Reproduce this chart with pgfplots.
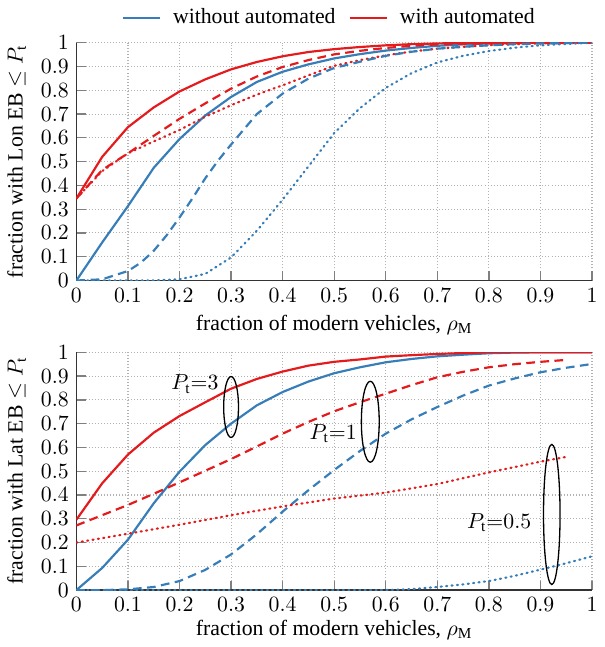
\documentclass[border=0pt]{standalone}
\usepackage{pgfplots}
\pgfplotsset{compat=1.18}
\usepackage{fontspec}
\setmainfont{Liberation Serif}
\definecolor{cblue}{RGB}{55,126,184}
\definecolor{cred}{RGB}{228,26,28}
\pgfplotsset{
  myaxis/.style={
    scale only axis, width=237pt, height=109.3pt,
    xmin=0, xmax=1, ymin=0, ymax=1,
    xtick={0,0.1,...,1.01}, ytick={0,0.1,...,1.01},
    axis x line*=bottom, axis y line*=left,
    grid=major, major grid style={densely dotted, gray!60, line width=0.5pt},
    tick style={gray, line width=0.6pt},
    axis line style={black!80, line width=0.6pt},
    tick label style={font=\normalsize},
    label style={font=\normalsize},
    xlabel={fraction of modern vehicles, $\rho_{\mathrm{M}}$},
    every axis plot/.append style={line width=1pt},
  },
  dsh/.style={dash pattern=on 4pt off 2.5pt},
  dtt/.style={dash pattern=on 0.5pt off 2pt, line cap=round},
}
\begin{document}
\begin{tikzpicture}
\begin{axis}[myaxis,
  xlabel style={yshift=1pt},
  ylabel={fraction with Lon EB $\leq P_{\mathrm{t}}$},
  legend columns=2,
  legend style={at={(0.5,1)}, anchor=south, yshift=3pt, draw=none, fill=none, font=\normalsize,
    nodes={inner xsep=5.5pt},
    /tikz/every even column/.append style={column sep=0.5pt}},
  legend cell align=left,
]
\addplot[cblue] coordinates {(0,0) (0.05,0.16) (0.1,0.313) (0.15,0.474) (0.2,0.595) (0.25,0.694) (0.3,0.772) (0.35,0.835) (0.4,0.878) (0.45,0.909) (0.5,0.934) (0.55,0.952) (0.6,0.967) (0.65,0.978) (0.7,0.987) (0.75,0.993) (0.8,0.997) (0.9,1) (1,1)};
\addlegendentry{without automated}
\addplot[cred] coordinates {(0,0.345) (0.05,0.52) (0.1,0.645) (0.15,0.728) (0.2,0.795) (0.25,0.846) (0.3,0.888) (0.35,0.919) (0.4,0.943) (0.45,0.961) (0.5,0.973) (0.55,0.982) (0.6,0.989) (0.65,0.994) (0.7,0.997) (0.75,0.999) (0.8,1) (0.9,1) (1,1)};
\addlegendentry{with automated}
\addplot[cred, dsh, forget plot] coordinates {(0,0.345) (0.05,0.465) (0.1,0.535) (0.15,0.608) (0.2,0.68) (0.25,0.745) (0.3,0.807) (0.35,0.858) (0.4,0.898) (0.45,0.927) (0.5,0.951) (0.55,0.966) (0.6,0.978) (0.65,0.987) (0.7,0.993) (0.8,0.998) (0.9,1) (1,1)};
\addplot[cred, dtt, forget plot] coordinates {(0,0.345) (0.05,0.46) (0.1,0.535) (0.15,0.585) (0.2,0.633) (0.25,0.689) (0.3,0.737) (0.35,0.782) (0.4,0.821) (0.45,0.863) (0.5,0.903) (0.55,0.927) (0.6,0.947) (0.65,0.963) (0.7,0.975) (0.8,0.99) (0.9,0.997) (1,1)};
\addplot[cblue, dsh, forget plot] coordinates {(0,0) (0.05,0.005) (0.1,0.04) (0.125,0.075) (0.15,0.125) (0.175,0.19) (0.2,0.265) (0.225,0.345) (0.25,0.43) (0.275,0.505) (0.3,0.572) (0.35,0.7) (0.4,0.786) (0.45,0.849) (0.5,0.894) (0.55,0.92) (0.6,0.945) (0.65,0.962) (0.7,0.975) (0.75,0.983) (0.8,0.989) (0.85,0.994) (0.9,0.997) (1,1)};
\addplot[cblue, dtt, forget plot] coordinates {(0,0) (0.05,0) (0.1,0) (0.15,0) (0.2,0.005) (0.25,0.028) (0.3,0.097) (0.35,0.209) (0.4,0.34) (0.45,0.48) (0.5,0.62) (0.55,0.725) (0.6,0.81) (0.65,0.872) (0.7,0.917) (0.75,0.945) (0.8,0.965) (0.85,0.979) (0.9,0.989) (0.95,0.995) (1,1)};
\end{axis}
\begin{axis}[myaxis, at={(0pt,-142.3pt)},
  xlabel style={yshift=3pt},
  ylabel={fraction with Lat EB $\leq P_{\mathrm{t}}$},
]
\addplot[cblue] coordinates {(0,0) (0.05,0.093) (0.1,0.212) (0.15,0.365) (0.2,0.498) (0.25,0.61) (0.3,0.7) (0.35,0.777) (0.4,0.833) (0.45,0.877) (0.5,0.912) (0.55,0.937) (0.6,0.958) (0.65,0.972) (0.7,0.983) (0.75,0.99) (0.8,0.996) (0.85,0.999) (0.9,1) (1,1)};
\addplot[cred] coordinates {(0,0.296) (0.05,0.449) (0.1,0.57) (0.15,0.662) (0.2,0.732) (0.25,0.79) (0.3,0.847) (0.35,0.888) (0.4,0.919) (0.45,0.944) (0.5,0.96) (0.55,0.97) (0.6,0.982) (0.65,0.988) (0.7,0.993) (0.75,0.997) (0.8,1) (0.9,1) (1,1)};
\addplot[cred, dsh] coordinates {(0,0.272) (0.05,0.315) (0.1,0.358) (0.15,0.405) (0.2,0.453) (0.25,0.502) (0.3,0.551) (0.35,0.604) (0.4,0.658) (0.45,0.707) (0.5,0.752) (0.55,0.79) (0.6,0.826) (0.65,0.862) (0.7,0.895) (0.75,0.918) (0.8,0.937) (0.85,0.95) (0.9,0.96) (0.95,0.968)};
\addplot[cblue, dsh] coordinates {(0,0) (0.05,0) (0.1,0.003) (0.15,0.013) (0.2,0.038) (0.25,0.085) (0.3,0.15) (0.35,0.235) (0.4,0.33) (0.45,0.42) (0.5,0.505) (0.55,0.585) (0.6,0.658) (0.65,0.718) (0.7,0.77) (0.75,0.818) (0.8,0.86) (0.85,0.89) (0.9,0.916) (0.95,0.935) (1,0.951)};
\addplot[cred, dtt] coordinates {(0,0.2) (0.1,0.237) (0.2,0.275) (0.3,0.315) (0.4,0.352) (0.5,0.385) (0.6,0.41) (0.7,0.446) (0.8,0.495) (0.9,0.54) (0.95,0.56)};
\addplot[cblue, dtt] coordinates {(0,0) (0.1,0) (0.2,0) (0.3,0) (0.4,0) (0.5,0) (0.6,0) (0.65,0.004) (0.7,0.013) (0.75,0.024) (0.8,0.038) (0.85,0.06) (0.9,0.086) (0.95,0.113) (1,0.142)};
\draw[black, line width=0.6pt] (axis cs:0.3,0.77) ellipse [x radius=3.4pt, y radius=14pt];
\draw[black, line width=0.6pt] (axis cs:0.57,0.708) ellipse [x radius=4.1pt, y radius=18.6pt];
\draw[black, line width=0.6pt] (axis cs:0.922,0.318) ellipse [x radius=3.8pt, y radius=32.2pt];
\node[font=\normalsize] at (axis cs:0.23,0.866) {$P_{\mathrm{t}}{=}3$};
\node[font=\normalsize] at (axis cs:0.498,0.657) {$P_{\mathrm{t}}{=}1$};
\node[font=\normalsize] at (axis cs:0.82,0.285) {$P_{\mathrm{t}}{=}0.5$};
\end{axis}
\end{tikzpicture}
\end{document}
